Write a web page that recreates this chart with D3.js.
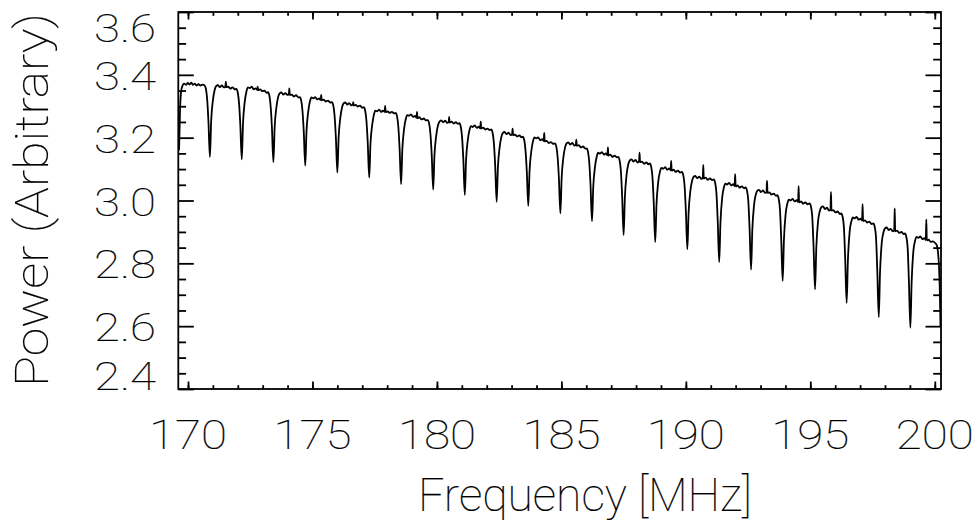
<!DOCTYPE html>
<html>
<head>
<meta charset="utf-8">
<script src="https://cdn.jsdelivr.net/npm/d3@7"></script>
<style>
  body { margin: 0; background: #fff; }
  svg { display: block; }
  .lbl { font-family: Roboto, "DejaVu Sans", sans-serif; font-weight: 100; fill: #000;
         stroke: #000; stroke-width: 0.2; }
</style>
</head>
<body>
<svg width="979" height="525"></svg>
<script>
// Axis ranges and ticks
const xDomain = [169.61, 200.25];
const yDomain = [2.4, 3.6];
const xMajor = [170, 175, 180, 185, 190, 195, 200];
const xMinor = d3.range(170, 201, 1);
const yMajor = [2.4, 2.6, 2.8, 3.0, 3.2, 3.4, 3.6];
const yMinor = [2.45, 2.5, 2.55, 2.65, 2.7, 2.75, 2.85, 2.9, 2.95, 3.05, 3.1, 3.15,
                3.25, 3.3, 3.35, 3.45, 3.5, 3.55];
const xTitle = "Frequency [MHz]";
const yTitle = "Power (Arbitrary)";

// Spectrum: [frequency MHz, power]
const spectrum = [
  [169.64,3.160],[169.68,3.290],[169.72,3.345],[169.78,3.366],[169.85,3.372],[169.92,3.368],[169.99,3.374],[170.06,3.369],[170.13,3.375],[170.20,3.368],[170.27,3.372],[170.34,3.366],[170.42,3.370],[170.50,3.366],[170.58,3.369],[170.66,3.367],[170.72,3.355],[170.77,3.322],[170.82,3.253],
  [170.88,3.139],[170.93,3.252],[171.00,3.319],[171.07,3.352],[171.13,3.364],[171.20,3.367],[171.28,3.361],[171.36,3.366],[171.44,3.360],[171.50,3.362],[171.52,3.378],[171.54,3.361],[171.62,3.362],[171.70,3.356],[171.79,3.360],[171.88,3.354],[171.94,3.355],[172.00,3.343],[172.05,3.310],[172.10,3.243],
  [172.16,3.131],[172.21,3.246],[172.28,3.315],[172.35,3.348],[172.41,3.360],[172.48,3.358],[172.56,3.362],[172.64,3.354],[172.72,3.357],[172.78,3.352],[172.80,3.362],[172.82,3.351],[172.90,3.354],[172.98,3.348],[173.07,3.350],[173.16,3.343],[173.21,3.345],[173.27,3.333],[173.32,3.300],[173.37,3.234],
  [173.43,3.122],[173.48,3.232],[173.55,3.296],[173.62,3.329],[173.68,3.341],[173.75,3.344],[173.83,3.337],[173.91,3.342],[173.99,3.336],[174.05,3.338],[174.07,3.357],[174.09,3.336],[174.17,3.337],[174.25,3.331],[174.34,3.335],[174.43,3.328],[174.49,3.329],[174.55,3.317],[174.60,3.284],[174.65,3.220],
  [174.71,3.111],[174.76,3.220],[174.83,3.283],[174.90,3.316],[174.96,3.328],[175.03,3.325],[175.11,3.329],[175.19,3.322],[175.27,3.325],[175.33,3.320],[175.35,3.336],[175.37,3.319],[175.45,3.321],[175.53,3.315],[175.62,3.318],[175.71,3.312],[175.78,3.313],[175.84,3.301],[175.89,3.268],[175.94,3.201],
  [176.00,3.089],[176.05,3.199],[176.12,3.264],[176.19,3.297],[176.25,3.309],[176.32,3.312],[176.40,3.305],[176.48,3.310],[176.56,3.303],[176.62,3.305],[176.64,3.313],[176.66,3.302],[176.74,3.304],[176.82,3.299],[176.91,3.302],[177.00,3.295],[177.06,3.297],[177.12,3.285],[177.17,3.252],[177.22,3.185],
  [177.28,3.073],[177.33,3.180],[177.40,3.241],[177.47,3.274],[177.53,3.286],[177.60,3.284],[177.68,3.289],[177.76,3.282],[177.84,3.286],[177.90,3.282],[177.92,3.301],[177.94,3.281],[178.02,3.284],[178.10,3.279],[178.19,3.282],[178.28,3.277],[178.34,3.279],[178.40,3.267],[178.45,3.234],[178.50,3.166],
  [178.56,3.052],[178.61,3.162],[178.68,3.227],[178.75,3.260],[178.81,3.272],[178.88,3.270],[178.96,3.274],[179.04,3.266],[179.12,3.269],[179.18,3.263],[179.20,3.282],[179.22,3.262],[179.30,3.265],[179.38,3.258],[179.47,3.261],[179.56,3.255],[179.63,3.256],[179.69,3.244],[179.74,3.211],[179.79,3.146],
  [179.85,3.035],[179.90,3.143],[179.97,3.206],[180.04,3.239],[180.10,3.251],[180.17,3.255],[180.25,3.249],[180.33,3.254],[180.41,3.247],[180.47,3.250],[180.49,3.266],[180.51,3.248],[180.59,3.251],[180.67,3.245],[180.76,3.249],[180.85,3.244],[180.90,3.246],[180.96,3.234],[181.01,3.201],[181.06,3.132],
  [181.12,3.018],[181.17,3.128],[181.24,3.192],[181.31,3.225],[181.37,3.237],[181.44,3.234],[181.52,3.239],[181.60,3.231],[181.68,3.235],[181.74,3.230],[181.76,3.251],[181.78,3.229],[181.86,3.232],[181.94,3.226],[182.03,3.229],[182.12,3.224],[182.18,3.226],[182.24,3.214],[182.29,3.181],[182.34,3.111],
  [182.40,2.996],[182.45,3.106],[182.52,3.170],[182.59,3.203],[182.65,3.215],[182.72,3.218],[182.80,3.211],[182.88,3.216],[182.96,3.208],[183.02,3.211],[183.04,3.229],[183.06,3.208],[183.14,3.210],[183.22,3.204],[183.31,3.207],[183.40,3.201],[183.45,3.203],[183.51,3.191],[183.56,3.158],[183.61,3.093],
  [183.67,2.983],[183.72,3.092],[183.79,3.156],[183.86,3.189],[183.92,3.201],[183.99,3.198],[184.07,3.201],[184.15,3.192],[184.23,3.195],[184.29,3.189],[184.31,3.215],[184.33,3.188],[184.41,3.190],[184.49,3.183],[184.58,3.186],[184.67,3.180],[184.74,3.182],[184.80,3.170],[184.85,3.137],[184.90,3.071],
  [184.96,2.959],[185.01,3.071],[185.08,3.137],[185.15,3.170],[185.21,3.182],[185.28,3.185],[185.36,3.178],[185.44,3.183],[185.52,3.175],[185.58,3.177],[185.60,3.194],[185.62,3.174],[185.70,3.176],[185.78,3.169],[185.87,3.172],[185.96,3.165],[186.01,3.166],[186.07,3.154],[186.12,3.121],[186.17,3.050],
  [186.23,2.934],[186.28,3.043],[186.35,3.107],[186.42,3.140],[186.48,3.152],[186.55,3.149],[186.63,3.154],[186.71,3.146],[186.79,3.150],[186.85,3.144],[186.87,3.169],[186.89,3.143],[186.97,3.146],[187.05,3.139],[187.14,3.143],[187.23,3.137],[187.28,3.139],[187.34,3.127],[187.39,3.094],[187.44,3.015],
  [187.50,2.890],[187.55,3.009],[187.62,3.083],[187.69,3.116],[187.75,3.128],[187.82,3.131],[187.90,3.124],[187.98,3.129],[188.06,3.121],[188.12,3.124],[188.14,3.152],[188.16,3.122],[188.24,3.124],[188.32,3.117],[188.41,3.121],[188.50,3.115],[188.55,3.118],[188.61,3.106],[188.66,3.073],[188.71,2.993],
  [188.77,2.868],[188.82,2.986],[188.89,3.059],[188.96,3.092],[189.02,3.104],[189.09,3.101],[189.17,3.106],[189.25,3.098],[189.33,3.102],[189.39,3.096],[189.41,3.126],[189.43,3.095],[189.51,3.098],[189.59,3.091],[189.68,3.095],[189.77,3.089],[189.84,3.091],[189.90,3.079],[189.95,3.046],[190.00,2.968],
  [190.06,2.845],[190.11,2.960],[190.18,3.030],[190.25,3.063],[190.31,3.075],[190.38,3.078],[190.46,3.071],[190.54,3.076],[190.62,3.069],[190.68,3.072],[190.70,3.113],[190.72,3.070],[190.80,3.073],[190.88,3.066],[190.97,3.070],[191.06,3.065],[191.12,3.067],[191.18,3.055],[191.23,3.022],[191.28,2.936],
  [191.34,2.804],[191.39,2.929],[191.46,3.009],[191.53,3.042],[191.59,3.054],[191.66,3.051],[191.74,3.056],[191.82,3.048],[191.90,3.052],[191.96,3.046],[191.98,3.084],[192.00,3.045],[192.08,3.048],[192.16,3.041],[192.25,3.045],[192.34,3.039],[192.40,3.042],[192.46,3.030],[192.51,2.997],[192.56,2.911],
  [192.62,2.780],[192.67,2.906],[192.74,2.986],[192.81,3.019],[192.87,3.031],[192.94,3.034],[193.02,3.027],[193.10,3.032],[193.18,3.024],[193.24,3.026],[193.26,3.063],[193.28,3.024],[193.36,3.026],[193.44,3.019],[193.53,3.022],[193.62,3.015],[193.67,3.017],[193.73,3.005],[193.78,2.972],[193.83,2.881],
  [193.89,2.744],[193.94,2.874],[194.01,2.958],[194.08,2.991],[194.14,3.003],[194.21,3.000],[194.29,3.005],[194.37,2.997],[194.45,3.001],[194.51,2.995],[194.53,3.046],[194.55,2.994],[194.63,2.997],[194.71,2.990],[194.80,2.994],[194.89,2.988],[194.97,2.991],[195.03,2.979],[195.08,2.946],[195.13,2.854],
  [195.19,2.717],[195.24,2.848],[195.31,2.933],[195.38,2.966],[195.44,2.978],[195.51,2.981],[195.59,2.973],[195.67,2.977],[195.75,2.968],[195.81,2.970],[195.83,3.027],[195.85,2.968],[195.93,2.969],[196.01,2.962],[196.10,2.965],[196.19,2.957],[196.24,2.959],[196.30,2.947],[196.35,2.914],[196.40,2.817],
  [196.46,2.674],[196.51,2.810],[196.58,2.901],[196.65,2.934],[196.71,2.946],[196.78,2.943],[196.86,2.948],[196.94,2.939],[197.02,2.942],[197.08,2.936],[197.10,2.988],[197.12,2.935],[197.20,2.937],[197.28,2.930],[197.37,2.933],[197.46,2.925],[197.53,2.927],[197.59,2.915],[197.64,2.882],[197.69,2.778],
  [197.75,2.629],[197.80,2.770],[197.87,2.866],[197.94,2.899],[198.00,2.911],[198.07,2.914],[198.15,2.906],[198.23,2.910],[198.31,2.902],[198.37,2.904],[198.39,2.975],[198.41,2.902],[198.49,2.904],[198.57,2.897],[198.66,2.900],[198.75,2.893],[198.80,2.895],[198.86,2.883],[198.91,2.850],[198.96,2.745],
  [199.02,2.595],[199.07,2.740],[199.14,2.839],[199.21,2.872],[199.27,2.884],[199.34,2.881],[199.42,2.886],[199.50,2.877],[199.58,2.880],[199.64,2.874],[199.66,2.940],[199.68,2.873],[199.76,2.875],[199.84,2.868],[199.93,2.870],[200.02,2.864],[200.08,2.858],[200.13,2.835],[200.17,2.790],[200.20,2.720],[200.23,2.600]
];

const svg = d3.select("svg");
const plotLeft = 178.3, plotRight = 941, plotTop = 12, plotBottom = 389;

const x = d3.scaleLinear().domain(xDomain).range([plotLeft, plotRight]);
const y = d3.scaleLinear().domain(yDomain).range([plotBottom, plotTop]);

// Ticks (inward, mirrored on all four sides)
function tickAxis(axis, tv, size, transform) {
  svg.append("g")
      .attr("transform", transform)
      .call(axis.tickValues(tv).tickSize(size).tickFormat(""))
      .call(g => g.select(".domain").remove())
      .selectAll("line").attr("stroke", "#000").attr("stroke-width", 1.8);
}
tickAxis(d3.axisBottom(x), xMajor, -7.5, `translate(0,${plotBottom})`);
tickAxis(d3.axisBottom(x), xMinor, -3.8, `translate(0,${plotBottom})`);
tickAxis(d3.axisTop(x), xMajor, -7.5, `translate(0,${plotTop})`);
tickAxis(d3.axisTop(x), xMinor, -3.8, `translate(0,${plotTop})`);
tickAxis(d3.axisLeft(y), yMajor, -15.5, `translate(${plotLeft},0)`);
tickAxis(d3.axisLeft(y), yMinor, -7.8, `translate(${plotLeft},0)`);
tickAxis(d3.axisRight(y), yMajor, -15.5, `translate(${plotRight},0)`);
tickAxis(d3.axisRight(y), yMinor, -7.8, `translate(${plotRight},0)`);

// Frame
svg.append("rect")
    .attr("x", plotLeft).attr("y", plotTop)
    .attr("width", plotRight - plotLeft).attr("height", plotBottom - plotTop)
    .attr("fill", "none").attr("stroke", "#000").attr("stroke-width", 1.8);

// Data line
const line = d3.line()
    .x(d => x(d[0]))
    .y(d => y(d[1]))
    .curve(d3.curveMonotoneX);
svg.append("path")
    .datum(spectrum)
    .attr("d", line)
    .attr("fill", "none")
    .attr("stroke", "#000")
    .attr("stroke-width", 1.8)
    .attr("stroke-linejoin", "round");

// X tick labels (wide Hershey-like glyphs)
svg.append("g").selectAll("text")
    .data(xMajor)
    .join("text")
    .attr("class", "lbl")
    .attr("x", d => x(d))
    .attr("y", 449)
    .attr("text-anchor", "middle")
    .attr("font-size", 40)
    .attr("textLength", 78)
    .attr("lengthAdjust", "spacingAndGlyphs")
    .text(d => d3.format("d")(d));

// Y tick labels (end labels kept inside the frame like IDL does)
svg.append("g").selectAll("text")
    .data(yMajor)
    .join("text")
    .attr("class", "lbl")
    .attr("x", 156)
    .attr("y", d => {
      const c = y(d) + 1.5;
      return Math.min(Math.max(c, 28.5), 376.5) + 13.5;
    })
    .attr("text-anchor", "end")
    .attr("font-size", 38)
    .attr("textLength", 62)
    .attr("lengthAdjust", "spacingAndGlyphs")
    .text(d => d3.format(".1f")(d));

// Axis titles
svg.append("text")
    .attr("class", "lbl")
    .attr("x", 585).attr("y", 511)
    .attr("text-anchor", "middle")
    .attr("font-size", 46)
    .attr("textLength", 334)
    .attr("lengthAdjust", "spacingAndGlyphs")
    .text(xTitle);

svg.append("text")
    .attr("class", "lbl")
    .attr("transform", "translate(48,200) rotate(-90)")
    .attr("text-anchor", "middle")
    .attr("font-size", 46)
    .attr("textLength", 374)
    .attr("lengthAdjust", "spacingAndGlyphs")
    .text(yTitle);
</script>
</body>
</html>
